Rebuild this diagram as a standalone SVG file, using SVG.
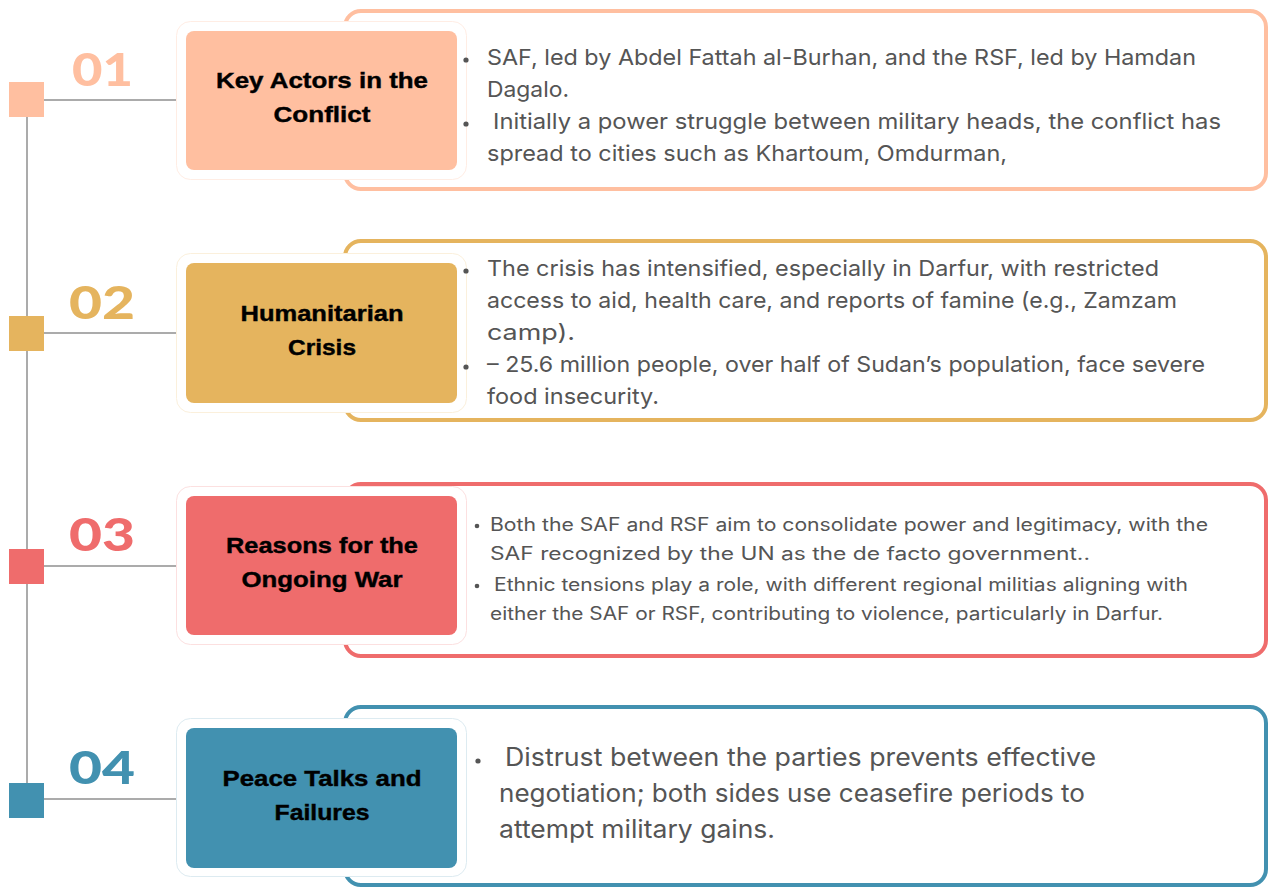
<svg xmlns="http://www.w3.org/2000/svg" width="1269" height="887" viewBox="0 0 1269 887">
<style>
.num{font-family:Lato,"Liberation Sans",sans-serif;font-weight:900;font-size:46px}
.title{font-family:"Liberation Sans",Arial,sans-serif;font-weight:bold;font-size:22px;fill:#000;text-anchor:middle;stroke:#000;stroke-width:0.4}
.body{font-family:Inter,"Open Sans","Liberation Sans",sans-serif;fill:#555}
.conn{stroke:#ababab;stroke-width:2;fill:none}
.back{fill:#fff;stroke-width:1}
.frame{fill:#fff;stroke-width:4}
.dot{fill:#555}
</style>
<rect width="1269" height="887" fill="#fff"/>
<g id="connectors">
<line class="conn" x1="27" y1="117" x2="27" y2="783"/>
<line class="conn" x1="44" y1="100" x2="177" y2="100"/>
<line class="conn" x1="44" y1="333" x2="177" y2="333"/>
<line class="conn" x1="44" y1="566" x2="177" y2="566"/>
<line class="conn" x1="44" y1="799" x2="177" y2="799"/>
</g>
<g id="node1">
<rect class="frame" x="345" y="11" width="921" height="178" rx="16" stroke="#FFBFA0"/>
<rect x="9" y="82" width="35" height="35" fill="#FFBFA0"/>
<text class="num" x="72" y="86" fill="#FFBFA0" textLength="61" lengthAdjust="spacingAndGlyphs">01</text>
<rect class="back" x="176.5" y="21.5" width="290" height="158" rx="14" stroke="#FFEDE4"/>
<rect x="186" y="31" width="271" height="139" rx="8" fill="#FFBFA0"/>
<text class="title" x="322" y="88" textLength="212" lengthAdjust="spacingAndGlyphs">Key Actors in the</text>
<text class="title" x="322" y="122" textLength="97" lengthAdjust="spacingAndGlyphs">Conflict</text>
<circle class="dot" cx="466" cy="60" r="2.6"/>
<circle class="dot" cx="466" cy="124" r="2.6"/>
<g class="body" font-size="22">
<text x="487" y="65" textLength="709" lengthAdjust="spacingAndGlyphs">SAF, led by Abdel Fattah al-Burhan, and the RSF, led by Hamdan</text>
<text x="487" y="97" textLength="82" lengthAdjust="spacingAndGlyphs">Dagalo.</text>
<text x="493" y="129" textLength="728" lengthAdjust="spacingAndGlyphs">Initially a power struggle between military heads, the conflict has</text>
<text x="487" y="161" textLength="520" lengthAdjust="spacingAndGlyphs">spread to cities such as Khartoum, Omdurman,</text>
</g>
</g>
<g id="node2">
<rect class="frame" x="345" y="241" width="921" height="179" rx="16" stroke="#E5B45E"/>
<rect x="9" y="316" width="35" height="35" fill="#E5B45E"/>
<text class="num" x="69" y="319" fill="#E5B45E" textLength="66" lengthAdjust="spacingAndGlyphs">02</text>
<rect class="back" x="176.5" y="253.5" width="290" height="159" rx="14" stroke="#FBF0DC"/>
<rect x="186" y="263" width="271" height="140" rx="8" fill="#E5B45E"/>
<text class="title" x="322" y="321" textLength="163" lengthAdjust="spacingAndGlyphs">Humanitarian</text>
<text class="title" x="322" y="355" textLength="68" lengthAdjust="spacingAndGlyphs">Crisis</text>
<circle class="dot" cx="466" cy="271" r="2.6"/>
<circle class="dot" cx="466" cy="367" r="2.6"/>
<g class="body" font-size="22">
<text x="487" y="276" textLength="672" lengthAdjust="spacingAndGlyphs">The crisis has intensified, especially in Darfur, with restricted</text>
<text x="487" y="308" textLength="690" lengthAdjust="spacingAndGlyphs">access to aid, health care, and reports of famine (e.g., Zamzam</text>
<text x="487" y="340" textLength="88" lengthAdjust="spacingAndGlyphs">camp).</text>
<text x="487" y="372" textLength="718" lengthAdjust="spacingAndGlyphs">– 25.6 million people, over half of Sudan’s population, face severe</text>
<text x="487" y="404" textLength="172" lengthAdjust="spacingAndGlyphs">food insecurity.</text>
</g>
</g>
<g id="node3">
<rect class="frame" x="345" y="484" width="921" height="172" rx="16" stroke="#EF6C6C"/>
<rect x="9" y="549" width="35" height="35" fill="#EF6C6C"/>
<text class="num" x="69" y="551" fill="#EF6C6C" textLength="66" lengthAdjust="spacingAndGlyphs">03</text>
<rect class="back" x="176.5" y="486.5" width="290" height="158" rx="14" stroke="#FCE0E0"/>
<rect x="186" y="496" width="271" height="139" rx="8" fill="#EF6C6C"/>
<text class="title" x="322" y="553" textLength="192" lengthAdjust="spacingAndGlyphs">Reasons for the</text>
<text class="title" x="322" y="587" textLength="161" lengthAdjust="spacingAndGlyphs">Ongoing War</text>
<circle class="dot" cx="477" cy="526" r="2.3"/>
<circle class="dot" cx="477" cy="586" r="2.3"/>
<g class="body" font-size="18">
<text x="490" y="531" textLength="718" lengthAdjust="spacingAndGlyphs">Both the SAF and RSF aim to consolidate power and legitimacy, with the</text>
<text x="490" y="560" textLength="600" lengthAdjust="spacingAndGlyphs">SAF recognized by the UN as the de facto government..</text>
<text x="494" y="591" textLength="694" lengthAdjust="spacingAndGlyphs">Ethnic tensions play a role, with different regional militias aligning with</text>
<text x="490" y="620" textLength="673" lengthAdjust="spacingAndGlyphs">either the SAF or RSF, contributing to violence, particularly in Darfur.</text>
</g>
</g>
<g id="node4">
<rect class="frame" x="345" y="707" width="921" height="178" rx="16" stroke="#4291B0"/>
<rect x="9" y="783" width="35" height="35" fill="#4291B0"/>
<text class="num" x="69" y="784" fill="#4291B0" textLength="66" lengthAdjust="spacingAndGlyphs">04</text>
<rect class="back" x="176.5" y="718.5" width="290" height="158" rx="14" stroke="#DDEBF1"/>
<rect x="186" y="728" width="271" height="140" rx="8" fill="#4291B0"/>
<text class="title" x="322" y="786" textLength="199" lengthAdjust="spacingAndGlyphs">Peace Talks and</text>
<text class="title" x="322" y="820" textLength="95" lengthAdjust="spacingAndGlyphs">Failures</text>
<circle class="dot" cx="478" cy="761" r="2.6"/>
<g class="body" font-size="25">
<text x="505" y="766" textLength="591" lengthAdjust="spacingAndGlyphs">Distrust between the parties prevents effective</text>
<text x="499" y="802" textLength="586" lengthAdjust="spacingAndGlyphs">negotiation; both sides use ceasefire periods to</text>
<text x="499" y="838" textLength="276" lengthAdjust="spacingAndGlyphs">attempt military gains.</text>
</g>
</g>
</svg>
